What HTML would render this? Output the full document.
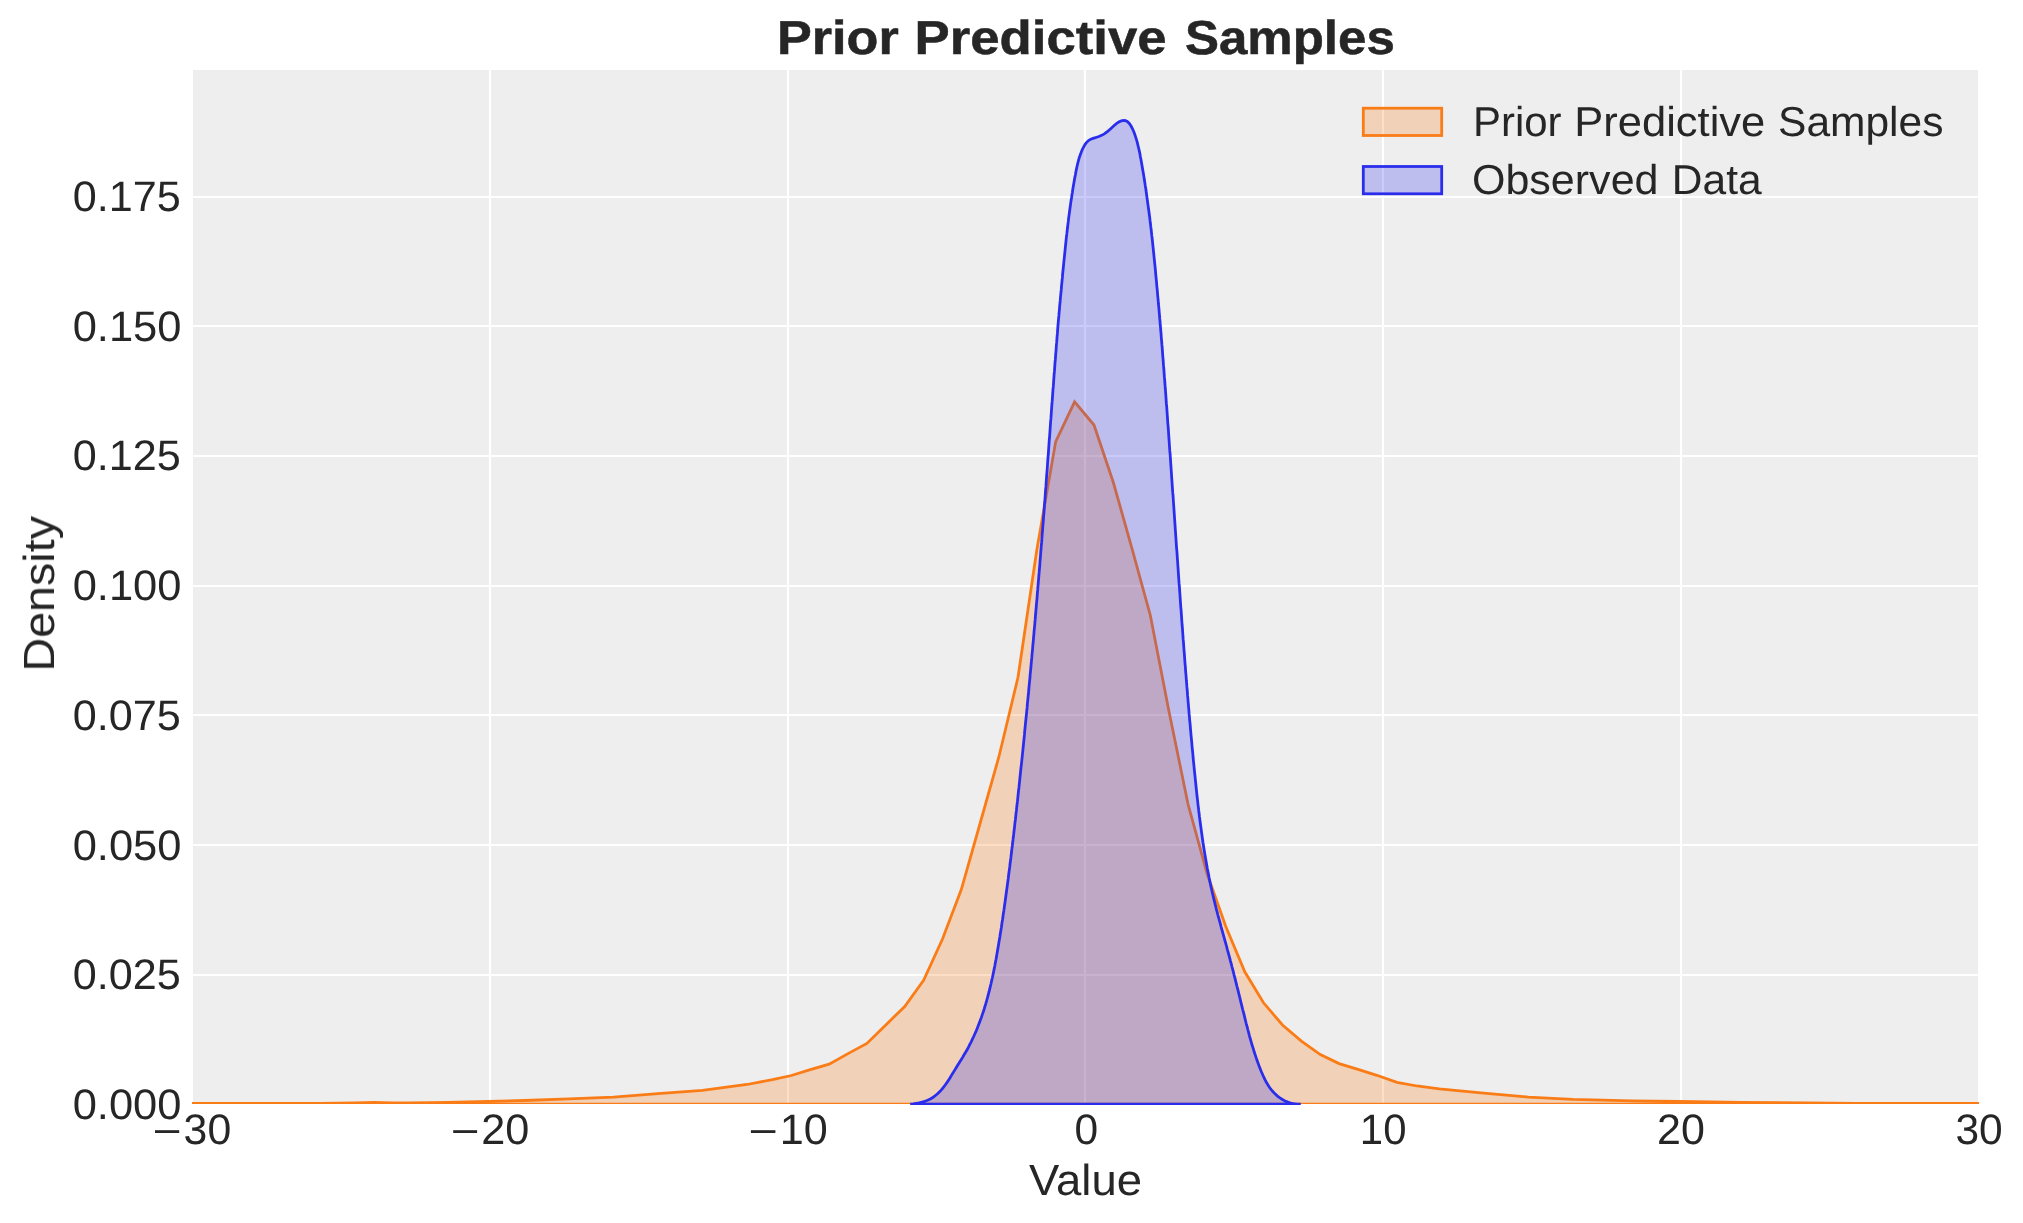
<!DOCTYPE html>
<html><head><meta charset="utf-8"><title>Prior Predictive Samples</title>
<style>html,body{margin:0;padding:0;background:#fff;width:2023px;height:1223px;overflow:hidden}</style></head>
<body>
<svg width="2023" height="1223" viewBox="0 0 2023 1223" style="display:block;position:absolute;left:0;top:0" font-family="Liberation Sans, sans-serif" fill="#262626" text-rendering="geometricPrecision">
<defs><clipPath id="axo"><rect x="192" y="69" width="1787" height="1035"/></clipPath><clipPath id="axb"><rect x="192" y="69" width="1787" height="1036"/></clipPath></defs>
<rect x="0" y="0" width="2023" height="1223" fill="#ffffff"/>
<rect x="193" y="70" width="1785" height="1034" fill="#eeeeee"/>
<path d="M490 70.0V1104M788 70.0V1104M1085 70.0V1104M1383 70.0V1104M1681 70.0V1104M193 975H1978M193 845H1978M193 715H1978M193 586H1978M193 456H1978M193 326H1978M193 197H1978" stroke="#ffffff" stroke-width="2.2" fill="none"/>
<g clip-path="url(#axo)"><path d="M150 1104.2 L150 1103.3 L192.0 1103.3 L320.0 1103.3 L355.0 1102.9 L374.0 1102.5 L393.0 1102.8 L409.0 1102.9 L448.0 1102.3 L488.0 1101.3 L524.5 1100.5 L569.0 1098.9 L613.5 1097.1 L658.0 1093.7 L702.4 1090.4 L747.0 1084.5 L772.5 1079.6 L791.4 1075.5 L810.3 1069.7 L829.2 1064.2 L848.0 1053.6 L866.9 1043.4 L885.8 1024.9 L904.7 1006.5 L923.6 980.3 L942.5 939.0 L961.3 889.6 L980.2 823.0 L999.1 756.0 L1018.0 677.3 L1036.8 550.0 L1055.7 441.6 L1074.6 401.8 L1094.0 425.0 L1113.2 482.0 L1131.5 546.8 L1150.3 615.2 L1169.1 712.0 L1188.0 804.0 L1207.2 874.0 L1225.8 926.5 L1244.8 971.8 L1263.5 1002.8 L1282.5 1025.0 L1301.4 1041.1 L1320.3 1054.6 L1339.1 1063.6 L1358.0 1069.4 L1376.9 1075.3 L1397.0 1082.3 L1417.0 1086.0 L1439.3 1088.9 L1483.8 1093.1 L1528.3 1097.1 L1572.8 1099.3 L1632.1 1100.9 L1680.0 1101.5 L1741.0 1102.3 L1807.0 1103.0 L1856.0 1103.4 L1979.0 1103.4 L2020 1103.4 L2020 1104.2 Z" fill="#fa7c17" fill-opacity="0.25" stroke="#fa7c17" stroke-width="2.78" stroke-linejoin="miter" stroke-miterlimit="4"/></g>
<g clip-path="url(#axb)"><path d="M910.3 1104.2 L910.3 1104.2 L913.2 1103.8 L916.1 1103.3 L919.1 1102.8 L922.0 1102.1 L924.8 1101.3 L927.6 1100.3 L930.3 1099.0 L932.8 1097.5 L935.2 1095.7 L937.5 1093.8 L939.6 1091.7 L941.6 1089.6 L943.4 1087.3 L945.2 1085.0 L946.9 1082.6 L948.5 1080.2 L950.1 1077.7 L951.6 1075.1 L953.2 1072.6 L954.7 1070.1 L956.3 1067.5 L957.8 1065.0 L959.4 1062.5 L961.0 1059.9 L962.6 1057.4 L964.1 1054.8 L965.6 1052.3 L967.1 1049.7 L968.5 1047.1 L969.8 1044.4 L971.2 1041.8 L972.4 1039.1 L973.7 1036.5 L974.9 1033.8 L976.1 1031.1 L977.2 1028.4 L978.3 1025.6 L979.3 1022.9 L980.4 1020.1 L981.4 1017.4 L982.3 1014.6 L983.3 1011.8 L984.2 1009.0 L985.0 1006.2 L985.9 1003.4 L986.7 1000.5 L987.5 997.7 L988.2 994.8 L989.0 992.0 L989.7 989.1 L990.4 986.2 L991.1 983.3 L991.7 980.5 L992.4 977.6 L993.0 974.7 L993.6 971.8 L994.2 968.9 L994.8 965.9 L995.3 963.0 L995.9 960.1 L996.4 957.2 L996.9 954.3 L997.4 951.3 L997.9 948.4 L998.4 945.5 L998.9 942.6 L999.4 939.6 L999.9 936.7 L1000.3 933.8 L1000.8 930.9 L1001.3 927.9 L1001.7 925.0 L1002.1 922.1 L1002.6 919.2 L1003.0 916.2 L1003.4 913.3 L1003.9 910.4 L1004.3 907.4 L1004.7 904.5 L1005.1 901.6 L1005.5 898.7 L1005.9 895.7 L1006.3 892.8 L1006.7 889.9 L1007.1 887.0 L1007.5 884.0 L1007.9 881.1 L1008.3 878.2 L1008.6 875.2 L1009.0 872.3 L1009.4 869.4 L1009.8 866.4 L1010.1 863.5 L1010.5 860.6 L1010.9 857.7 L1011.2 854.7 L1011.6 851.8 L1011.9 848.9 L1012.3 845.9 L1012.6 843.0 L1013.0 840.0 L1013.3 837.1 L1013.7 834.2 L1014.0 831.2 L1014.4 828.3 L1014.7 825.4 L1015.0 822.4 L1015.4 819.5 L1015.7 816.6 L1016.0 813.6 L1016.4 810.7 L1016.7 807.7 L1017.0 804.8 L1017.4 801.9 L1017.7 798.9 L1018.0 796.0 L1018.3 793.0 L1018.6 790.1 L1019.0 787.2 L1019.3 784.2 L1019.6 781.3 L1019.9 778.3 L1020.2 775.4 L1020.5 772.5 L1020.8 769.5 L1021.1 766.6 L1021.5 763.6 L1021.8 760.7 L1022.1 757.7 L1022.4 754.8 L1022.7 751.9 L1023.0 748.9 L1023.3 746.0 L1023.6 743.0 L1023.9 740.1 L1024.2 737.1 L1024.5 734.2 L1024.7 731.3 L1025.0 728.3 L1025.3 725.4 L1025.6 722.4 L1025.9 719.5 L1026.2 716.5 L1026.5 713.6 L1026.8 710.7 L1027.1 707.7 L1027.3 704.8 L1027.6 701.8 L1027.9 698.9 L1028.2 695.9 L1028.5 693.0 L1028.8 690.0 L1029.0 687.1 L1029.3 684.2 L1029.6 681.2 L1029.9 678.3 L1030.1 675.3 L1030.4 672.4 L1030.7 669.4 L1031.0 666.5 L1031.2 663.5 L1031.5 660.6 L1031.8 657.7 L1032.0 654.7 L1032.3 651.8 L1032.6 648.8 L1032.8 645.9 L1033.1 642.9 L1033.4 640.0 L1033.6 637.0 L1033.9 634.1 L1034.1 631.1 L1034.4 628.2 L1034.7 625.3 L1034.9 622.3 L1035.2 619.4 L1035.4 616.4 L1035.7 613.5 L1035.9 610.5 L1036.2 607.6 L1036.4 604.6 L1036.7 601.7 L1037.0 598.7 L1037.2 595.8 L1037.4 592.8 L1037.7 589.9 L1037.9 587.0 L1038.2 584.0 L1038.4 581.1 L1038.7 578.1 L1038.9 575.2 L1039.2 572.2 L1039.4 569.3 L1039.7 566.3 L1039.9 563.4 L1040.1 560.4 L1040.4 557.5 L1040.6 554.5 L1040.8 551.6 L1041.1 548.6 L1041.3 545.7 L1041.6 542.7 L1041.8 539.8 L1042.0 536.8 L1042.2 533.9 L1042.5 531.0 L1042.7 528.0 L1042.9 525.1 L1043.2 522.1 L1043.4 519.2 L1043.6 516.2 L1043.9 513.3 L1044.1 510.3 L1044.3 507.4 L1044.5 504.4 L1044.8 501.5 L1045.0 498.5 L1045.2 495.6 L1045.4 492.6 L1045.6 489.7 L1045.9 486.7 L1046.1 483.8 L1046.3 480.8 L1046.5 477.9 L1046.7 474.9 L1047.0 472.0 L1047.2 469.0 L1047.4 466.1 L1047.6 463.1 L1047.8 460.2 L1048.0 457.2 L1048.3 454.3 L1048.5 451.3 L1048.7 448.4 L1048.9 445.4 L1049.1 442.5 L1049.3 439.5 L1049.6 436.6 L1049.8 433.6 L1050.0 430.7 L1050.2 427.7 L1050.4 424.8 L1050.6 421.8 L1050.9 418.9 L1051.1 415.9 L1051.3 413.0 L1051.5 410.0 L1051.7 407.1 L1051.9 404.1 L1052.2 401.2 L1052.4 398.2 L1052.6 395.3 L1052.8 392.3 L1053.0 389.4 L1053.3 386.4 L1053.5 383.5 L1053.7 380.5 L1053.9 377.6 L1054.1 374.6 L1054.4 371.7 L1054.6 368.8 L1054.8 365.8 L1055.0 362.9 L1055.3 359.9 L1055.5 357.0 L1055.7 354.0 L1056.0 351.1 L1056.2 348.1 L1056.4 345.2 L1056.7 342.2 L1056.9 339.3 L1057.1 336.3 L1057.4 333.4 L1057.6 330.4 L1057.8 327.5 L1058.1 324.5 L1058.3 321.6 L1058.6 318.6 L1058.9 315.7 L1059.1 312.7 L1059.4 309.8 L1059.6 306.8 L1059.9 303.9 L1060.2 300.9 L1060.4 298.0 L1060.7 295.1 L1061.0 292.1 L1061.3 289.2 L1061.5 286.2 L1061.8 283.3 L1062.1 280.3 L1062.4 277.4 L1062.6 274.4 L1062.9 271.5 L1063.2 268.5 L1063.5 265.6 L1063.8 262.7 L1064.1 259.7 L1064.4 256.8 L1064.7 253.8 L1065.0 250.9 L1065.3 247.9 L1065.6 245.0 L1065.9 242.0 L1066.2 239.1 L1066.5 236.2 L1066.9 233.2 L1067.2 230.3 L1067.6 227.3 L1067.9 224.4 L1068.3 221.5 L1068.6 218.5 L1069.0 215.6 L1069.4 212.7 L1069.8 209.7 L1070.2 206.8 L1070.6 203.9 L1071.0 201.0 L1071.5 198.0 L1071.9 195.1 L1072.4 192.2 L1072.8 189.3 L1073.3 186.3 L1073.8 183.4 L1074.3 180.5 L1074.8 177.6 L1075.4 174.7 L1075.9 171.8 L1076.5 168.9 L1077.1 166.0 L1077.8 163.2 L1078.5 160.3 L1079.3 157.5 L1080.3 154.8 L1081.3 152.0 L1082.4 149.4 L1083.7 146.8 L1085.1 144.3 L1086.8 142.1 L1088.8 140.3 L1091.2 139.0 L1093.9 138.1 L1096.7 137.2 L1099.5 136.3 L1102.2 135.1 L1104.7 133.7 L1107.0 131.9 L1109.3 130.0 L1111.5 127.9 L1113.9 125.7 L1116.4 123.6 L1119.2 121.8 L1122.1 120.6 L1124.9 120.4 L1127.3 121.4 L1129.3 123.4 L1130.9 125.8 L1132.3 128.4 L1133.5 131.0 L1134.6 133.8 L1135.5 136.6 L1136.4 139.4 L1137.2 142.2 L1137.9 145.1 L1138.6 148.0 L1139.3 150.9 L1139.9 153.8 L1140.4 156.7 L1141.0 159.7 L1141.5 162.6 L1142.0 165.5 L1142.5 168.4 L1143.0 171.3 L1143.5 174.2 L1144.0 177.1 L1144.4 180.1 L1144.9 183.0 L1145.3 185.9 L1145.8 188.8 L1146.2 191.7 L1146.6 194.7 L1147.0 197.6 L1147.4 200.5 L1147.8 203.5 L1148.2 206.4 L1148.6 209.3 L1149.0 212.2 L1149.4 215.2 L1149.8 218.1 L1150.1 221.0 L1150.5 224.0 L1150.8 226.9 L1151.2 229.9 L1151.5 232.8 L1151.8 235.7 L1152.2 238.7 L1152.5 241.6 L1152.8 244.6 L1153.1 247.5 L1153.4 250.4 L1153.7 253.4 L1154.0 256.3 L1154.3 259.3 L1154.6 262.2 L1154.9 265.2 L1155.2 268.1 L1155.5 271.1 L1155.7 274.0 L1156.0 277.0 L1156.3 279.9 L1156.6 282.8 L1156.8 285.8 L1157.1 288.7 L1157.4 291.7 L1157.6 294.6 L1157.9 297.6 L1158.2 300.5 L1158.4 303.5 L1158.7 306.4 L1159.0 309.4 L1159.2 312.3 L1159.5 315.3 L1159.7 318.2 L1160.0 321.2 L1160.2 324.1 L1160.5 327.1 L1160.7 330.0 L1161.0 333.0 L1161.2 335.9 L1161.4 338.8 L1161.7 341.8 L1161.9 344.7 L1162.2 347.7 L1162.4 350.6 L1162.6 353.6 L1162.8 356.5 L1163.1 359.5 L1163.3 362.4 L1163.5 365.4 L1163.8 368.3 L1164.0 371.3 L1164.2 374.2 L1164.4 377.2 L1164.7 380.1 L1164.9 383.1 L1165.1 386.0 L1165.3 389.0 L1165.6 391.9 L1165.8 394.9 L1166.0 397.8 L1166.2 400.8 L1166.4 403.7 L1166.7 406.7 L1166.9 409.6 L1167.1 412.5 L1167.3 415.5 L1167.5 418.4 L1167.7 421.4 L1167.9 424.3 L1168.2 427.3 L1168.4 430.2 L1168.6 433.2 L1168.8 436.1 L1169.0 439.1 L1169.2 442.0 L1169.4 445.0 L1169.6 447.9 L1169.8 450.9 L1170.1 453.8 L1170.3 456.8 L1170.5 459.7 L1170.7 462.7 L1170.9 465.6 L1171.1 468.6 L1171.3 471.5 L1171.5 474.5 L1171.7 477.4 L1171.9 480.4 L1172.1 483.3 L1172.3 486.3 L1172.5 489.2 L1172.7 492.2 L1173.0 495.1 L1173.2 498.1 L1173.4 501.0 L1173.6 504.0 L1173.8 506.9 L1174.0 509.9 L1174.2 512.8 L1174.4 515.8 L1174.6 518.8 L1174.8 521.7 L1175.0 524.7 L1175.2 527.6 L1175.4 530.6 L1175.6 533.5 L1175.8 536.5 L1176.0 539.4 L1176.2 542.4 L1176.4 545.3 L1176.6 548.3 L1176.9 551.2 L1177.1 554.2 L1177.3 557.1 L1177.5 560.1 L1177.7 563.0 L1177.9 566.0 L1178.1 568.9 L1178.3 571.9 L1178.5 574.8 L1178.7 577.8 L1178.9 580.7 L1179.1 583.7 L1179.4 586.6 L1179.6 589.6 L1179.8 592.5 L1180.0 595.5 L1180.2 598.4 L1180.4 601.4 L1180.6 604.3 L1180.8 607.3 L1181.1 610.2 L1181.3 613.2 L1181.5 616.1 L1181.7 619.1 L1181.9 622.0 L1182.1 625.0 L1182.4 627.9 L1182.6 630.9 L1182.8 633.8 L1183.0 636.7 L1183.2 639.7 L1183.5 642.6 L1183.7 645.6 L1183.9 648.5 L1184.1 651.5 L1184.4 654.4 L1184.6 657.4 L1184.8 660.3 L1185.0 663.3 L1185.3 666.2 L1185.5 669.2 L1185.7 672.1 L1186.0 675.1 L1186.2 678.0 L1186.4 681.0 L1186.7 683.9 L1186.9 686.9 L1187.2 689.8 L1187.4 692.7 L1187.6 695.7 L1187.9 698.6 L1188.1 701.6 L1188.4 704.5 L1188.6 707.5 L1188.9 710.4 L1189.1 713.4 L1189.4 716.3 L1189.6 719.3 L1189.9 722.2 L1190.2 725.2 L1190.4 728.1 L1190.7 731.0 L1190.9 734.0 L1191.2 736.9 L1191.5 739.9 L1191.8 742.8 L1192.0 745.8 L1192.3 748.7 L1192.6 751.7 L1192.9 754.6 L1193.1 757.5 L1193.4 760.5 L1193.7 763.4 L1194.0 766.4 L1194.3 769.3 L1194.6 772.3 L1194.9 775.2 L1195.2 778.2 L1195.5 781.1 L1195.8 784.0 L1196.1 787.0 L1196.4 789.9 L1196.7 792.9 L1197.0 795.8 L1197.4 798.8 L1197.7 801.7 L1198.0 804.6 L1198.4 807.6 L1198.7 810.5 L1199.1 813.5 L1199.4 816.4 L1199.8 819.3 L1200.2 822.3 L1200.6 825.2 L1201.0 828.1 L1201.4 831.1 L1201.8 834.0 L1202.2 836.9 L1202.6 839.8 L1203.0 842.8 L1203.5 845.7 L1203.9 848.6 L1204.4 851.5 L1204.9 854.4 L1205.4 857.4 L1205.9 860.3 L1206.4 863.2 L1206.9 866.1 L1207.4 869.0 L1208.0 871.9 L1208.6 874.8 L1209.1 877.7 L1209.7 880.6 L1210.3 883.5 L1210.9 886.4 L1211.6 889.3 L1212.2 892.1 L1212.9 895.0 L1213.6 897.9 L1214.3 900.8 L1215.0 903.6 L1215.7 906.5 L1216.4 909.4 L1217.2 912.2 L1217.9 915.1 L1218.7 917.9 L1219.5 920.8 L1220.3 923.7 L1221.0 926.5 L1221.8 929.4 L1222.6 932.2 L1223.4 935.1 L1224.2 937.9 L1225.0 940.8 L1225.8 943.6 L1226.6 946.5 L1227.3 949.3 L1228.1 952.2 L1228.9 955.1 L1229.7 957.9 L1230.4 960.8 L1231.2 963.6 L1231.9 966.5 L1232.7 969.4 L1233.4 972.2 L1234.1 975.1 L1234.9 977.9 L1235.6 980.8 L1236.3 983.7 L1237.0 986.5 L1237.8 989.4 L1238.5 992.3 L1239.2 995.1 L1239.9 998.0 L1240.6 1000.9 L1241.3 1003.8 L1242.0 1006.6 L1242.7 1009.5 L1243.5 1012.4 L1244.2 1015.2 L1244.9 1018.1 L1245.6 1021.0 L1246.3 1023.8 L1247.1 1026.7 L1247.8 1029.5 L1248.6 1032.4 L1249.3 1035.3 L1250.1 1038.1 L1250.9 1040.9 L1251.7 1043.8 L1252.6 1046.6 L1253.5 1049.4 L1254.3 1052.3 L1255.3 1055.1 L1256.2 1057.9 L1257.2 1060.7 L1258.2 1063.5 L1259.2 1066.3 L1260.3 1069.0 L1261.4 1071.8 L1262.6 1074.5 L1263.8 1077.2 L1265.1 1079.9 L1266.5 1082.5 L1268.0 1085.0 L1269.6 1087.5 L1271.4 1089.8 L1273.3 1092.0 L1275.3 1094.1 L1277.5 1096.1 L1279.9 1097.9 L1282.4 1099.5 L1285.1 1100.9 L1287.8 1102.1 L1290.6 1103.0 L1293.5 1103.6 L1296.5 1104.0 L1299.4 1104.1 L1299.4 1104.2 Z" fill="#2a2eec" fill-opacity="0.25" stroke="#2a2eec" stroke-width="2.78" stroke-linejoin="miter" stroke-miterlimit="4"/></g>
<g opacity="0.999">
<text transform="translate(776.91,54.00) scale(1.0947,1)" font-size="47.68" font-weight="bold" stroke="#262626" stroke-width="0.5">Prior</text>
<text transform="translate(914.47,54.00) scale(1.1064,1)" font-size="47.68" font-weight="bold" stroke="#262626" stroke-width="0.5">Predictive</text>
<text transform="translate(1184.97,54.00) scale(1.0699,1)" font-size="47.68" font-weight="bold" stroke="#262626" stroke-width="0.5">Samples</text>
<text transform="translate(72.66,1119.37) scale(1.0185,1)" font-size="42.68" font-weight="normal">0.000</text>
<text transform="translate(72.67,989.27) scale(1.0109,1)" font-size="42.68" font-weight="normal">0.025</text>
<text transform="translate(72.66,859.62) scale(1.0185,1)" font-size="42.68" font-weight="normal">0.050</text>
<text transform="translate(72.67,729.87) scale(1.0109,1)" font-size="42.68" font-weight="normal">0.075</text>
<text transform="translate(72.66,600.02) scale(1.0185,1)" font-size="42.68" font-weight="normal">0.100</text>
<text transform="translate(72.67,470.37) scale(1.0109,1)" font-size="42.68" font-weight="normal">0.125</text>
<text transform="translate(72.66,340.72) scale(1.0185,1)" font-size="42.68" font-weight="normal">0.150</text>
<text transform="translate(72.67,210.97) scale(1.0109,1)" font-size="42.68" font-weight="normal">0.175</text>
<rect x="155.0" y="1130.2" width="24.2" height="2.8" fill="#262626"/>
<text transform="translate(183.59,1144.30) scale(1.0029,1)" font-size="42.68" font-weight="normal">30</text>
<rect x="453.2" y="1130.2" width="23.9" height="2.8" fill="#262626"/>
<text transform="translate(481.14,1144.30) scale(1.0127,1)" font-size="42.68" font-weight="normal">20</text>
<rect x="750.9" y="1130.2" width="24.5" height="2.8" fill="#262626"/>
<text transform="translate(779.87,1144.30) scale(1.0099,1)" font-size="42.68" font-weight="normal">10</text>
<text transform="translate(1074.40,1144.30) scale(0.9965,1)" font-size="42.68" font-weight="normal">0</text>
<text transform="translate(1359.86,1144.30) scale(0.9818,1)" font-size="42.68" font-weight="normal">10</text>
<text transform="translate(1656.95,1144.30) scale(1.0082,1)" font-size="42.68" font-weight="normal">20</text>
<text transform="translate(1955.40,1144.30) scale(0.9962,1)" font-size="42.68" font-weight="normal">30</text>
<text transform="translate(1029.07,1194.60) scale(1.0456,1)" font-size="43.48" font-weight="normal">Value</text>
<text transform="translate(54.00,671.53) rotate(-90) scale(1.0729,1)" font-size="43.48" font-weight="normal">Density</text>
<rect x="1363.3" y="108.2" width="78.4" height="27.3" fill="#fa7c17" fill-opacity="0.25" stroke="#fa7c17" stroke-width="2.78"/>
<rect x="1363.3" y="166.5" width="78.4" height="27.3" fill="#2a2eec" fill-opacity="0.25" stroke="#2a2eec" stroke-width="2.78"/>
<text transform="translate(1472.95,136.20) scale(1.0047,1)" font-size="41.74" font-weight="normal">Prior</text>
<text transform="translate(1574.22,136.20) scale(1.0426,1)" font-size="41.74" font-weight="normal">Predictive</text>
<text transform="translate(1778.09,136.20) scale(1.0181,1)" font-size="41.74" font-weight="normal">Samples</text>
<text transform="translate(1471.96,194.30) scale(1.0309,1)" font-size="41.74" font-weight="normal">Observed</text>
<text transform="translate(1671.80,194.30) scale(1.0185,1)" font-size="41.74" font-weight="normal">Data</text>
</g>
</svg>
</body></html>
